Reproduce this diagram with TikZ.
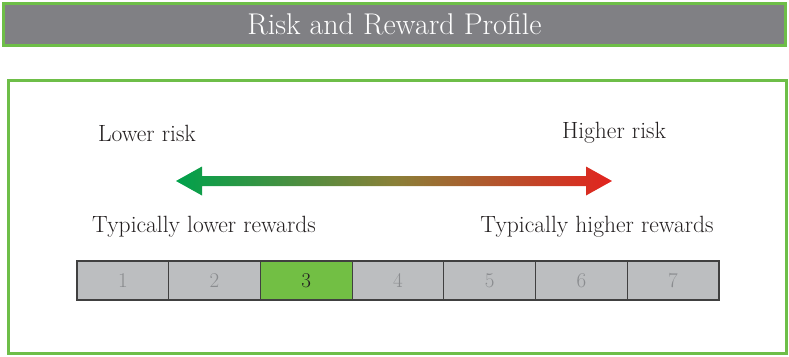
\documentclass[tikz,border=0pt]{standalone}
\usepackage{tikz}
\usetikzlibrary{calc, positioning}
\definecolor{barGray}{RGB}{128,128,132}
\definecolor{frameGreen}{RGB}{110,190,72}
\definecolor{lowGreen}{RGB}{0,161,75}
\definecolor{midOlive}{RGB}{138,128,56}
\definecolor{highRed}{RGB}{226,35,30}
\definecolor{cellGray}{RGB}{188,190,192}
\definecolor{cellGreen}{RGB}{114,191,68}
\definecolor{numGray}{RGB}{138,140,143}
\definecolor{mainBlack}{RGB}{35,31,32}

\begin{document}
\begin{tikzpicture}[x=1pt, y=-1pt,
    titlebar/.style={fill=barGray, draw=frameGreen, line width=3pt, text=white, font=\fontsize{30}{34}\selectfont, minimum width=782pt, minimum height=42pt, inner sep=0pt},
    label/.style={text=mainBlack, font=\fontsize{23.5}{27}\selectfont, inner sep=0pt},
    cell/.style={fill=cellGray, draw=black!75, line width=1.2pt, minimum width=91.7pt, minimum height=39pt, inner sep=0pt, text=numGray, font=\fontsize{21}{25}\selectfont}]
    \useasboundingbox (0,0) rectangle (789,356);
    \node[titlebar] (title) at (394.5,24.5) {Risk and Reward Profile};
    \draw[frameGreen, line width=3pt] (8,80) rectangle (786,353);

    \node[label] (lowrisk) at (147,133) {Lower risk};
    \node[label] (highrisk) at (614,133) {Higher risk};
    \node[label] (lowrew) at (204,227) {Typically lower rewards};
    \node[label] (highrew) at (597,227) {Typically higher rewards};

    % shaded double arrow
    \coordinate (tipL) at (176,181);
    \coordinate (tipR) at (612,181);
    \shade[left color=lowGreen, right color=highRed, middle color=midOlive]
        (tipL) -- ++(26,-14.5) -- ++(0,9.5) -- ($(tipR)+(-26,-5)$) -- ++(0,-9.5) -- (tipR)
        -- ++(-26,14.5) -- ++(0,-9.5) -- ($(tipL)+(26,5)$) -- ++(0,9.5) -- cycle;

    \foreach \n in {1,...,7}
        \node[cell] (c\n) at ({77+91.7*(\n-0.5)},280.5) {\n};
    \node[cell, fill=cellGreen, text=mainBlack] at (c3) {3};
\end{tikzpicture}
\end{document}
